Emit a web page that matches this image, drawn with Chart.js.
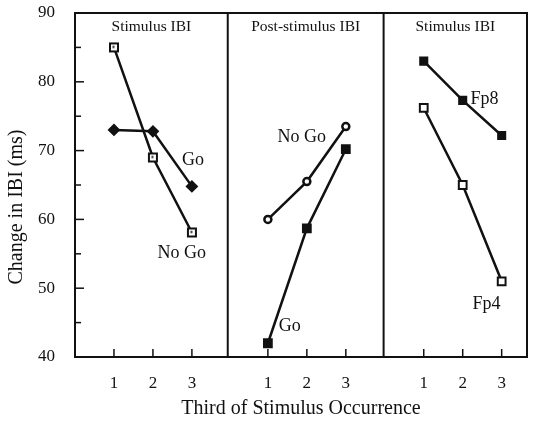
<!DOCTYPE html>
<html lang="en">
<head>
  <meta charset="UTF-8">
  <title>Change in IBI</title>
  <script src="https://cdn.jsdelivr.net/npm/chart.js"></script>
  <style>
    body { margin: 0; background: #fff; }
    #wrap { width: 535px; height: 421px; }
  </style>
</head>
<body>
  <div id="wrap"><canvas id="ibiChart" width="535" height="421"></canvas></div>
  <script>
    // x positions inside each panel, and where each panel starts
    const thirds = [1, 2, 3];
    const panelOffsets = [0, 3.95, 7.95];
    const dividers = [3.92, 7.92];
    const panelTitles = ['Stimulus IBI', 'Post-stimulus IBI', 'Stimulus IBI'];

    // panel 1: stimulus IBI
    const stimGo = [73, 72.8, 64.8];
    const stimNoGo = [85, 69, 58.1];
    // panel 2: post-stimulus IBI
    const postNoGo = [60, 65.5, 73.5];
    const postGo = [42, 58.7, 70.2];
    // panel 3: stimulus IBI by site
    const fp8 = [83, 77.3, 72.2];
    const fp4 = [76.2, 65, 51];

    // series labels written next to the lines (data coords)
    const seriesLabels = [
      { text: 'Go', x: 3.03, y: 68.6 },
      { text: 'No Go', x: 2.74, y: 55.1 },
      { text: 'No Go', x: 5.82, y: 72.0 },
      { text: 'Go', x: 5.51, y: 44.4 },
      { text: 'Fp8', x: 10.51, y: 77.4 },
      { text: 'Fp4', x: 10.56, y: 47.6 }
    ];

    const ink = '#111';
    const serif = "'Liberation Serif', 'DejaVu Serif', serif";

    function pts(panel, vals) {
      return vals.map((v, i) => ({ x: thirds[i] + panelOffsets[panel], y: v }));
    }

    // open square with a dot in the middle
    function dotSquare(size) {
      const c = document.createElement('canvas');
      c.width = size + 2; c.height = size + 2;
      const g = c.getContext('2d');
      g.fillStyle = '#fff';
      g.fillRect(1, 1, size, size);
      g.strokeStyle = ink; g.lineWidth = 2;
      g.strokeRect(2, 2, size - 2, size - 2);
      g.fillStyle = ink;
      g.fillRect(size / 2 - 0.5, size / 2 - 0.5, 2, 2);
      return c;
    }

    function line(data, style, radius, filled, bw) {
      return {
        data: data,
        borderColor: ink,
        borderWidth: 2.5,
        pointStyle: style,
        pointRadius: radius,
        pointBorderWidth: bw || 2,
        pointBorderColor: ink,
        pointBackgroundColor: filled ? ink : '#fff',
        showLine: true,
        fill: false
      };
    }

    const tickValues = [];
    panelOffsets.forEach(o => thirds.forEach(t => tickValues.push(t + o)));

    const decorations = {
      id: 'decorations',
      afterDraw(chart) {
        const { ctx, chartArea: a, scales: { x, y } } = chart;
        ctx.save();
        ctx.strokeStyle = ink;
        ctx.lineWidth = 2;
        ctx.strokeRect(a.left, a.top, a.right - a.left, a.bottom - a.top);
        // panel dividers
        dividers.forEach(d => {
          const px = x.getPixelForValue(d);
          ctx.beginPath(); ctx.moveTo(px, a.top); ctx.lineTo(px, a.bottom); ctx.stroke();
        });
        // inward tick marks
        ctx.lineWidth = 1.5;
        y.ticks.forEach(t => {
          const py = y.getPixelForValue(t.value);
          const len = t.value % 10 === 0 ? 9 : 6;
          ctx.beginPath(); ctx.moveTo(a.left, py); ctx.lineTo(a.left + len, py); ctx.stroke();
        });
        x.ticks.forEach(t => {
          const px = x.getPixelForValue(t.value);
          ctx.beginPath(); ctx.moveTo(px, a.bottom); ctx.lineTo(px, a.bottom - 8); ctx.stroke();
        });
        // panel titles
        ctx.fillStyle = ink;
        ctx.font = '15.5px ' + serif;
        ctx.textAlign = 'center';
        ctx.textBaseline = 'middle';
        const edges = [x.min, dividers[0], dividers[1], x.max];
        panelTitles.forEach((title, i) => {
          const cx = (x.getPixelForValue(edges[i]) + x.getPixelForValue(edges[i + 1])) / 2;
          ctx.fillText(title, cx, a.top + 14);
        });
        ctx.font = '18px ' + serif;
        seriesLabels.forEach(l => {
          ctx.fillText(l.text, x.getPixelForValue(l.x), y.getPixelForValue(l.y));
        });
        // y axis title, sits a little below the plot centre
        ctx.font = '20px ' + serif;
        ctx.translate(17, 207);
        ctx.rotate(-Math.PI / 2);
        ctx.fillText('Change in IBI (ms)', 0, 0);
        ctx.restore();
      }
    };

    new Chart(document.getElementById('ibiChart'), {
      type: 'scatter',
      data: {
        datasets: [
          line(pts(0, stimGo), 'rectRot', 5, true),
          line(pts(0, stimNoGo), dotSquare(10), 5, false),
          line(pts(1, postNoGo), 'circle', 3.5, false, 2.5),
          line(pts(1, postGo), 'rect', 5.5, true),
          line(pts(2, fp8), 'rect', 5, true),
          line(pts(2, fp4), 'rect', 5.5, false)
        ]
      },
      options: {
        responsive: false,
        animation: false,
        layout: { padding: { top: 13, right: 8, left: 0, bottom: 0 } },
        plugins: { legend: { display: false }, tooltip: { enabled: false } },
        scales: {
          x: {
            type: 'linear',
            min: 0,
            max: 11.6,
            afterBuildTicks: s => { s.ticks = tickValues.map(v => ({ value: v })); },
            ticks: {
              color: ink,
              font: { family: serif, size: 17 },
              padding: 16,
              callback: v => String(Math.round(v - panelOffsets[Math.floor(v / 3.92)]))
            },
            grid: { display: false, drawTicks: false },
            border: { display: false },
            title: {
              display: true,
              text: 'Third of Stimulus Occurrence',
              color: ink,
              font: { family: serif, size: 20 },
              padding: { top: 0, bottom: 0 }
            },
            afterFit: s => { s.height = 64; s.paddingLeft = 0; s.paddingRight = 0; }
          },
          y: {
            min: 40,
            max: 90,
            ticks: {
              stepSize: 5,
              color: ink,
              font: { family: serif, size: 17 },
              padding: 20,
              callback: v => (v % 10 === 0 ? String(v) : '')
            },
            grid: { display: false, drawTicks: false },
            border: { display: false },
            afterFit: s => { s.width = 75; s.paddingTop = 0; s.paddingBottom = 0; }
          }
        }
      },
      plugins: [decorations]
    });
  </script>
</body>
</html>
